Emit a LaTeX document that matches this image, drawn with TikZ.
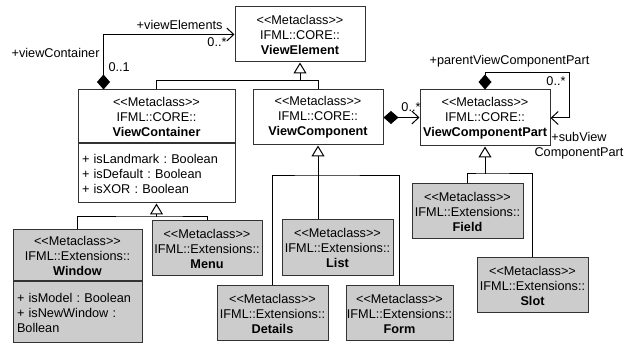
\documentclass[tikz,border=0pt]{standalone}
\usepackage{fontspec}
\newfontfamily\umlfont{Liberation Sans}
\usetikzlibrary{arrows.meta}
\frenchspacing
\begin{document}
\begin{tikzpicture}[x=1pt,y=-1pt,font=\umlfont\fontsize{12.7}{15}\selectfont,line width=1pt,
cls/.style={draw=black!80,align=center,inner sep=0pt,minimum width=#1,minimum height=55pt},
ext/.style={cls=#1,fill=black!20},
attr/.style={draw=black!80,align=left,inner xsep=4pt,inner ysep=0pt,text width=#1},
gen/.style={-{Triangle[open,length=11pt,width=13pt]}},
comp/.style={{Diamond[length=15pt,width=13pt]}-{Straight Barb[length=7pt,width=13pt]}}]
\useasboundingbox(0,0)rectangle(638,347);
\def\mc{<<Metaclass>>}
% core classes
\node[cls=130pt](ViewElement)at(300,34.5){\mc\\IFML::CORE::\\\textbf{ViewElement}};
\node[cls=157pt,minimum height=53pt](ViewContainer)at(156.5,116.5){\mc\\IFML::CORE::\\\textbf{ViewContainer}};
\node[attr=149pt,minimum height=59pt,anchor=north](ViewContainerAttr)at(ViewContainer.south){+ isLandmark : Boolean\\+ isDefault : Boolean\\+ isXOR : Boolean};
\node[cls=130pt](ViewComponent)at(318,117.5){\mc\\IFML::CORE::\\\textbf{ViewComponent}};
\node[cls=130pt,minimum height=56pt](ViewComponentPart)at(485,118){\mc\\IFML::CORE::\\\textbf{ViewComponentPart}};
% extensions
\node[ext=129pt,minimum height=51pt](Window)at(77.5,255.5){\mc\\IFML::Extensions::\\\textbf{Window}};
\node[attr=121pt,minimum height=61pt,fill=black!20,anchor=north](WindowAttr)at(Window.south){+ isModel : Boolean\\+ isNewWindow :\\Bollean};
\node[ext=110pt](Menu)at(207,248.5){\mc\\IFML::Extensions::\\\textbf{Menu}};
\node[ext=111pt,minimum height=56pt](List)at(337.5,248){\mc\\IFML::Extensions::\\\textbf{List}};
\node[ext=111pt](Details)at(272.5,313.5){\mc\\IFML::Extensions::\\\textbf{Details}};
\node[ext=107pt](Form)at(399.5,313.5){\mc\\IFML::Extensions::\\\textbf{Form}};
\node[ext=111pt](Field)at(467.5,211.5){\mc\\IFML::Extensions::\\\textbf{Field}};
\node[ext=111pt](Slot)at(532.5,285.5){\mc\\IFML::Extensions::\\\textbf{Slot}};
% generalizations
\coordinate(veJoin)at(300,81);
\coordinate(vcJoin)at(318,176);
\coordinate(vcnJoin)at(156.5,217);
\coordinate(vcpJoin)at(485,174);
\draw(ViewContainer.north)|-(ViewComponent.north|-veJoin)--(ViewComponent.north);
\draw[gen](veJoin)--(ViewElement.south);
\draw[gen](ViewComponent.south|-List.north)--(ViewComponent.south);
\draw(Details.north)|-(vcJoin)-|(Form.north);
\draw[gen](vcnJoin)--(ViewContainerAttr.south);
\draw(Window.north)|-(vcnJoin)-|(Menu.north);
\draw[gen](vcpJoin)--(ViewComponentPart.south);
\draw(Field.north)|-(vcpJoin)-|(Slot.north);
% compositions
\draw[comp]([xshift=-53pt]ViewContainer.north)|-(ViewElement.west);
\node[anchor=east,inner sep=0pt](lViewElements)at(223,25){+viewElements};
\node[inner sep=0pt](mViewElements)at(217,42){0..*};
\node[anchor=east,inner sep=0pt](lViewContainer)at(100,53){+viewContainer};
\node[anchor=west,inner sep=0pt](mViewContainer)at(108,67){0..1};
\draw[comp](ViewComponent.east)--(ViewComponent.east-|ViewComponentPart.west);
\node[inner sep=0pt](mParts)at(411,107){0..*};
\draw[comp](ViewComponentPart.north)--++(0,-17)-|([xshift=19pt]ViewComponentPart.east)--(ViewComponentPart.east);
\node[inner sep=0pt](lParent)at(509.5,61){+parentViewComponentPart};
\node[inner sep=0pt](mSub)at(556,81){0..*};
\node[inner sep=0pt,align=center](lSub)at(579,145.5){+subView\\ComponentPart};
\end{tikzpicture}
\end{document}
